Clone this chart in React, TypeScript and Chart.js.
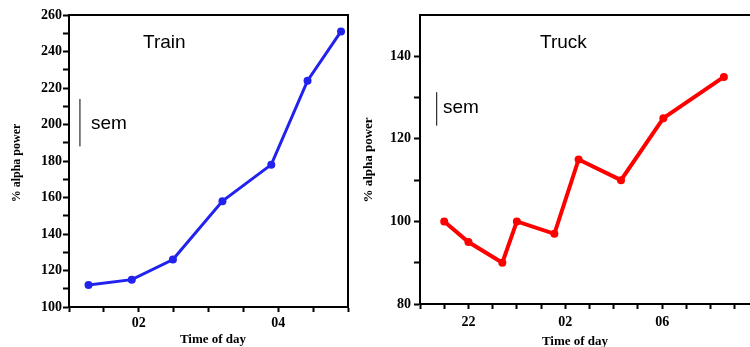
import React, { useEffect, useRef } from "react";
import { Chart, registerables } from "chart.js";

Chart.register(...registerables);

// ---- data ----
const trainTimes = [1.28, 1.9, 2.49, 3.2, 3.9, 4.42, 4.9];
const trainValues = [112, 115, 126, 158, 178, 224, 251];
const trainTickLabels: Record<string, string> = { "2": "02", "4": "04" };
const trainSemX = [1.157, 1.157];
const trainSemY = [188, 214];

const truckTimes = [21.0, 22.0, 23.4, 24.0, 25.55, 26.55, 28.3, 30.05, 32.55];
const truckValues = [100, 95, 90, 100, 97, 115, 110, 125, 135];
const truckTickLabels: Record<string, string> = { "22": "22", "26": "02", "30": "06" };
const truckSemX = [20.69, 20.69];
const truckSemY = [123.2, 131.3];

const SERIF = "'Liberation Serif', 'Times New Roman', serif";
const SANS = "'Liberation Sans', Arial, sans-serif";

type TextItem = { text: string; x: number; y: number; font: string; rotate?: boolean; align?: CanvasTextAlign };

type PanelProps = {
  left: number;
  width: number;
  times: number[];
  values: number[];
  semX: number[];
  semY: number[];
  color: string;
  lineWidth: number;
  xMin: number;
  xMax: number;
  xStep: number;
  xLabels: Record<string, string>;
  yMin: number;
  yMax: number;
  yHideTop: boolean;
  yAxisWidth: number;
  xAxisHeight: number;
  padTop: number;
  padRight: number;
  yPad: number;
  xPad: number;
  texts: TextItem[];
};

function Panel(p: PanelProps) {
  const ref = useRef<HTMLCanvasElement | null>(null);
  useEffect(() => {
    const canvas = ref.current!;
    const textPlugin = {
      id: "texts",
      afterDraw(chart: any) {
        const ctx = chart.ctx as CanvasRenderingContext2D;
        const a = chart.chartArea;
        ctx.save();
        ctx.strokeStyle = "#000";
        ctx.lineWidth = 2;
        ctx.strokeRect(a.left, a.top, a.right - a.left, a.bottom - a.top);
        ctx.fillStyle = "#000";
        for (const t of p.texts) {
          ctx.save();
          ctx.font = t.font;
          ctx.textBaseline = "middle";
          ctx.textAlign = t.align || "left";
          ctx.translate(t.x, t.y);
          if (t.rotate) ctx.rotate(-Math.PI / 2);
          ctx.fillText(t.text, 0, 0);
          ctx.restore();
        }
        ctx.restore();
      },
    };
    const chart = new Chart(canvas, {
      type: "line",
      data: {
        datasets: [
          {
            data: p.times.map((t, i) => ({ x: t, y: p.values[i] })),
            borderColor: p.color,
            backgroundColor: p.color,
            borderWidth: p.lineWidth,
            pointRadius: 4,
            pointBorderWidth: 0,
            pointBackgroundColor: p.color,
            tension: 0,
          },
          {
            data: p.semX.map((t, i) => ({ x: t, y: p.semY[i] })),
            borderColor: "#000",
            borderWidth: 1,
            pointRadius: 0,
          },
        ],
      },
      options: {
        animation: false,
        responsive: false,
        devicePixelRatio: 1,
        events: [],
        layout: { padding: { top: p.padTop, right: p.padRight, left: 0, bottom: 0 } },
        plugins: { legend: { display: false }, tooltip: { enabled: false } },
        scales: {
          x: {
            type: "linear",
            min: p.xMin,
            max: p.xMax,
            afterFit(scale: any) {
              scale.height = p.xAxisHeight;
            },
            grid: { drawOnChartArea: false, drawTicks: true, tickLength: 5, color: "#000", tickWidth: 2 },
            border: { display: true, color: "#000", width: 2 },
            ticks: {
              stepSize: p.xStep,
              autoSkip: false,
              maxRotation: 0,
              padding: p.xPad,
              color: "#000",
              font: { family: SERIF, size: 14, weight: "bold" },
              callback: (v: any) => p.xLabels[String(v)] ?? "",
            },
          },
          y: {
            type: "linear",
            min: p.yMin,
            max: p.yMax,
            afterFit(scale: any) {
              scale.width = p.yAxisWidth;
            },
            grid: {
              drawOnChartArea: false,
              drawTicks: true,
              tickLength: 6,
              tickWidth: 2,
              color: "#000",
              tickColor: (c: any) =>
                p.yHideTop && c.tick && c.tick.value === p.yMax ? "rgba(0,0,0,0)" : "#000",
            },
            border: { display: true, color: "#000", width: 2 },
            ticks: {
              stepSize: 10,
              autoSkip: false,
              padding: p.yPad,
              color: "#000",
              font: { family: SERIF, size: 14, weight: "bold" },
              callback: (v: any) => (Number(v) % 20 === 0 ? String(v) : ""),
            },
          },
        },
      },
      plugins: [textPlugin],
    } as any);
    return () => chart.destroy();
  }, []);
  return (
    <canvas
      ref={ref}
      width={p.width}
      height={347}
      style={{ position: "absolute", left: p.left, top: 0, width: p.width, height: 347 }}
    />
  );
}

export default function App() {
  const bigSans = `19px ${SANS}`;
  return (
    <div
      style={{
        position: "fixed",
        left: 0,
        top: 0,
        width: 750,
        height: 347,
        overflow: "hidden",
        background: "#fff",
      }}
    >
      <Panel
        left={0}
        width={360}
        times={trainTimes}
        values={trainValues}
        semX={trainSemX}
        semY={trainSemY}
        color="#2222ee"
        lineWidth={3}
        xMin={1}
        xMax={5}
        xStep={0.5}
        xLabels={trainTickLabels}
        yMin={100}
        yMax={260}
        yHideTop={false}
        yAxisWidth={69}
        xAxisHeight={40}
        padTop={15}
        padRight={12}
        yPad={1}
        xPad={3}
        texts={[
          { text: "Train", x: 143, y: 43, font: bigSans },
          { text: "sem", x: 91, y: 124, font: bigSans },
          { text: "% alpha power", x: 17, y: 163, font: `bold 12px ${SERIF}`, rotate: true, align: "center" },
          { text: "Time of day", x: 213, y: 340, font: `bold 13px ${SERIF}`, align: "center" },
        ]}
      />
      <Panel
        left={360}
        width={410}
        times={truckTimes}
        values={truckValues}
        semX={truckSemX}
        semY={truckSemY}
        color="#ff0000"
        lineWidth={4}
        xMin={20}
        xMax={34}
        xStep={1}
        xLabels={truckTickLabels}
        yMin={80}
        yMax={150}
        yHideTop={true}
        yAxisWidth={60}
        xAxisHeight={43}
        padTop={15}
        padRight={11}
        yPad={3}
        xPad={5}
        texts={[
          { text: "Truck", x: 180, y: 43, font: bigSans },
          { text: "sem", x: 83, y: 108, font: bigSans },
          { text: "% alpha power", x: 9, y: 160, font: `bold 13px ${SERIF}`, rotate: true, align: "center" },
          { text: "Time of day", x: 215, y: 342, font: `bold 13px ${SERIF}`, align: "center" },
        ]}
      />
    </div>
  );
}
